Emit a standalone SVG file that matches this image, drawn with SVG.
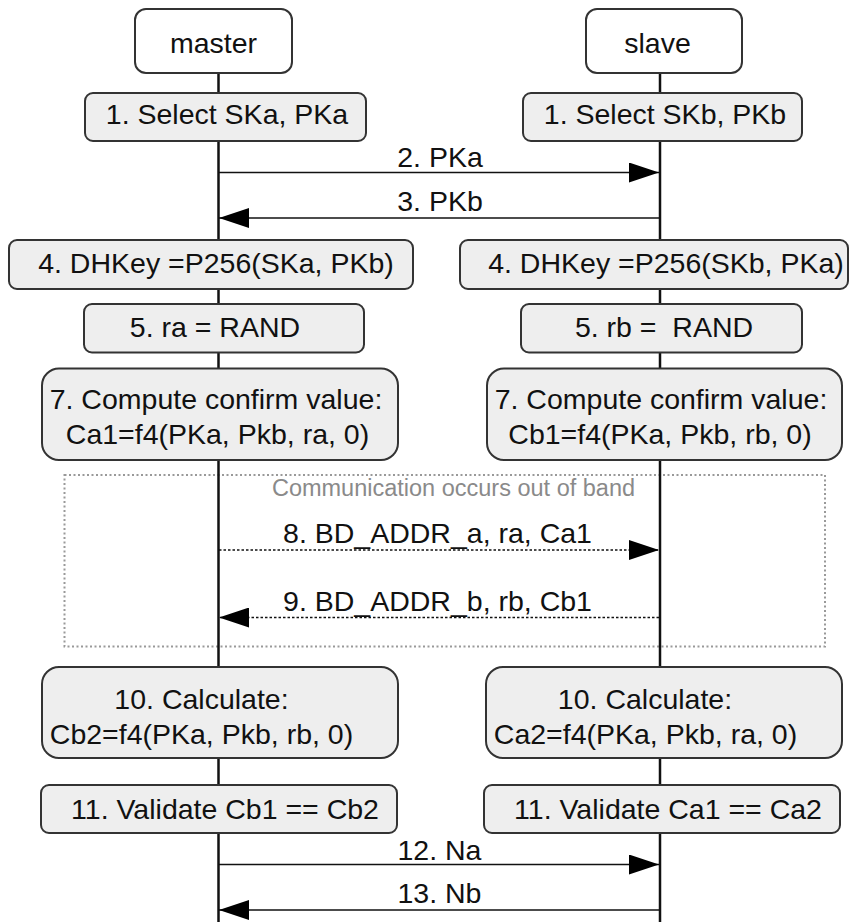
<svg xmlns="http://www.w3.org/2000/svg" width="853" height="922" viewBox="0 0 853 922">
<style>
.lifeline{stroke:#111;stroke-width:2.5;fill:none}
.box{fill:#eeeeee;stroke:#333;stroke-width:2}
.head{fill:#fff;stroke:#333;stroke-width:2}
.t{font-family:"Liberation Sans",Arial,sans-serif;font-size:28.5px;fill:#111;text-anchor:middle;white-space:pre}
.note{font-family:"Liberation Sans",Arial,sans-serif;font-size:23.5px;fill:#8a8a8a;text-anchor:middle}
.msg{stroke:#111;stroke-width:1.5;fill:none}
.dot{stroke-dasharray:2.5 2}
.band{fill:none;stroke:#999;stroke-width:2;stroke-dasharray:2 2.5}
</style>
<defs>
<marker id="ah" markerUnits="userSpaceOnUse" markerWidth="30" markerHeight="20" refX="30" refY="10" orient="auto">
<path d="M0,0 L30,10 L0,20 z" fill="#000"/>
</marker>
</defs>
<rect id="band" class="band" x="64.5" y="475" width="760.5" height="171.5"/>
<text class="note" x="453.5" y="496">Communication occurs out of band</text>
<g id="lifelines">
<line class="lifeline" x1="218.5" y1="73" x2="218.5" y2="922"/>
<line class="lifeline" x1="660" y1="73" x2="660" y2="922"/>
</g>
<g id="master"><rect class="head" x="135" y="9" width="157" height="64" rx="11"/><text class="t" x="213.5" y="53">master</text></g>
<g id="slave"><rect class="head" x="586" y="9" width="156" height="64" rx="11"/><text class="t" x="657.5" y="53">slave</text></g>
<g id="m1"><rect class="box" x="85" y="93" width="281" height="48" rx="8"/><text class="t" x="227" y="123.5">1. Select SKa, PKa</text></g>
<g id="s1"><rect class="box" x="523" y="93" width="279" height="48" rx="8"/><text class="t" x="665" y="124">1. Select SKb, PKb</text></g>
<g id="m4"><rect class="box" x="9" y="240" width="404" height="49" rx="8"/><text class="t" x="216" y="273">4. DHKey =P256(SKa, PKb)</text></g>
<g id="s4"><rect class="box" x="460" y="240" width="388" height="49" rx="8"/><text class="t" x="666" y="273">4. DHKey =P256(SKb, PKa)</text></g>
<g id="m5"><rect class="box" x="84" y="304" width="280" height="48.5" rx="8"/><text class="t" x="215" y="336.5">5. ra = RAND</text></g>
<g id="s5"><rect class="box" x="521" y="304" width="281" height="48.5" rx="8"/><text class="t" x="664" y="336.5">5. rb =  RAND</text></g>
<g id="m7"><rect class="box" x="42" y="368.5" width="356" height="91.5" rx="17"/><text class="t" x="216" y="408.5">7. Compute confirm value:</text><text class="t" x="217.5" y="443.5">Ca1=f4(PKa, Pkb, ra, 0)</text></g>
<g id="s7"><rect class="box" x="487" y="368.5" width="355" height="91.5" rx="17"/><text class="t" x="661" y="408.5">7. Compute confirm value:</text><text class="t" x="660" y="443.5">Cb1=f4(PKa, Pkb, rb, 0)</text></g>
<g id="m10"><rect class="box" x="42" y="667" width="356" height="91" rx="17"/><text class="t" x="201.5" y="708.5">10. Calculate:</text><text class="t" x="201.5" y="743.5">Cb2=f4(PKa, Pkb, rb, 0)</text></g>
<g id="s10"><rect class="box" x="486" y="667" width="356" height="91" rx="17"/><text class="t" x="645" y="708.5">10. Calculate:</text><text class="t" x="645.5" y="743.5">Ca2=f4(PKa, Pkb, ra, 0)</text></g>
<g id="m11"><rect class="box" x="41" y="785" width="356" height="48" rx="8"/><text class="t" x="225" y="818.5">11. Validate Cb1 == Cb2</text></g>
<g id="s11"><rect class="box" x="484" y="785" width="356" height="48" rx="8"/><text class="t" x="668" y="818.5">11. Validate Ca1 == Ca2</text></g>
<g id="connectors">
<line class="msg" x1="219" y1="172.5" x2="659" y2="172.5" marker-end="url(#ah)"/>
<text class="t" x="440" y="166.5">2. PKa</text>
<line class="msg" x1="659" y1="218" x2="219" y2="218" marker-end="url(#ah)"/>
<text class="t" x="440" y="210.5">3. PKb</text>
<line class="msg dot" x1="219" y1="550" x2="659" y2="550" marker-end="url(#ah)"/>
<text class="t" x="437.5" y="543">8. BD_ADDR_a, ra, Ca1</text>
<line class="msg dot" x1="659" y1="617.5" x2="219" y2="617.5" marker-end="url(#ah)"/>
<text class="t" x="437.5" y="610.5">9. BD_ADDR_b, rb, Cb1</text>
<line class="msg" x1="219" y1="864.5" x2="659" y2="864.5" marker-end="url(#ah)"/>
<text class="t" x="439.5" y="859.5">12. Na</text>
<line class="msg" x1="659" y1="910" x2="219" y2="910" marker-end="url(#ah)"/>
<text class="t" x="439.5" y="903">13. Nb</text>
</g>
</svg>
